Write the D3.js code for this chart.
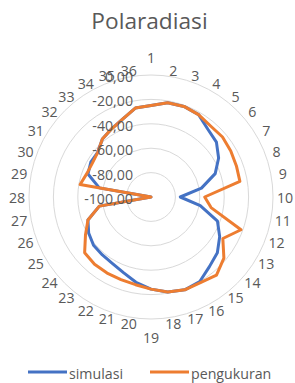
<!DOCTYPE html>
<html>
<head>
<meta charset="utf-8">
<script src="https://cdn.jsdelivr.net/npm/d3@7"></script>
<style>
    body { margin: 0; background: #fff; }
    text { font-family: "Open Sans", sans-serif; fill: #595959; }
</style>
</head>
<body>
<div id="view"></div>
<script>
const categories = ['1', '2', '3', '4', '5', '6', '7', '8', '9', '10', '11', '12',
    '13', '14', '15', '16', '17', '18', '19', '20', '21', '22', '23', '24',
    '25', '26', '27', '28', '29', '30', '31', '32', '33', '34', '35', '36'];
const simulasi = [-25, -21.5, -21, -22, -27.5, -30, -36, -44, -58, -76, -59, -42,
    -35, -29, -25.5, -20, -19, -21, -24.5, -29, -34, -37, -38, -38.5,
    -41, -45, -57, -100, -57, -45, -43, -43, -38, -35.5, -32, -26];
const pengukuran = [-25, -21.5, -21, -22, -24, -23.5, -24.5, -25.5, -26, -56, -50, -21.5,
    -32, -22, -16.5, -19, -19, -21, -24.5, -27, -28, -28, -28, -29,
    -38, -45, -57, -100, -41, -44, -44.5, -43, -38, -35.5, -32, -26];
const ticks = [-100, -80, -60, -40, -20, 0];
const series = [
    {name: 'simulasi', values: simulasi, color: '#4472C4'},
    {name: 'pengukuran', values: pengukuran, color: '#ED7D31'}
];

const width = 295;
const height = 383;
const cx = 151;
const cy = 197;
const R = 122;

const svg = d3.select('#view')
    .append('svg')
        .attr('width', width)
        .attr('height', height);

svg.append('text')
    .attr('x', 149.5)
    .attr('y', 28.5)
    .attr('text-anchor', 'middle')
    .style('font-size', '22.7px')
    .text('Polaradiasi');

const r = d3.scaleLinear().domain([-100, 0]).range([0, R]);
const angle = d3.scalePoint().domain(categories).range([0, 2 * Math.PI]).padding(0);
// scalePoint puts the last one at 2PI, so use band-like step
const step = 2 * Math.PI / categories.length;
const ang = (c) => categories.indexOf(c) * step;

const g = svg.append('g').attr('transform', `translate(${cx},${cy})`);

// grid rings
ticks.filter(t => t > -100).forEach(t => {
    g.append('circle')
        .attr('r', r(t))
        .attr('fill', 'none')
        .attr('stroke', '#d9d9d9')
        .attr('stroke-width', 1);
});

// series, orange on top
series.forEach(s => {
    g.append('path')
        .datum(s.values)
        .attr('fill', 'none')
        .attr('stroke', s.color)
        .attr('stroke-width', 3)
        .attr('stroke-linejoin', 'round')
        .attr('d', d3.lineRadial()
            .angle((d, i) => ang(categories[i]))
            .radius(d => r(d))
            .curve(d3.curveLinearClosed));
});

// category labels
categories.forEach(c => {
    const a = ang(c);
    const s = Math.sin(a);
    const co = Math.cos(a);
    let dist = 127 + 7 * Math.abs(s);
    if (Math.abs(co) > 0.999) dist = 140;
    g.append('text')
        .attr('x', dist * s)
        .attr('y', -dist * co)
        .attr('text-anchor', 'middle')
        .attr('dominant-baseline', 'central')
        .style('font-size', '14.2px')
        .text(c);
});

// value axis labels
ticks.forEach(t => {
    g.append('text')
        .attr('x', -18)
        .attr('y', -r(t) + 1.5)
        .attr('text-anchor', 'end')
        .attr('dominant-baseline', 'central')
        .style('font-size', '14.2px')
        .text(d3.format('.2f')(t).replace('.', ',').replace('−', '-'));
});

// legend
const legend = svg.append('g').attr('transform', 'translate(0,373)');
const legendX = [28, 150];
series.forEach((s, i) => {
    legend.append('line')
        .attr('x1', legendX[i])
        .attr('x2', legendX[i] + 39)
        .attr('y1', -1)
        .attr('y2', -1)
        .attr('stroke', s.color)
        .attr('stroke-width', 3);
    legend.append('text')
        .attr('x', legendX[i] + 41)
        .attr('y', 0)
        .attr('dominant-baseline', 'central')
        .style('font-size', '14.2px')
        .text(s.name);
});
</script>
</body>
</html>
